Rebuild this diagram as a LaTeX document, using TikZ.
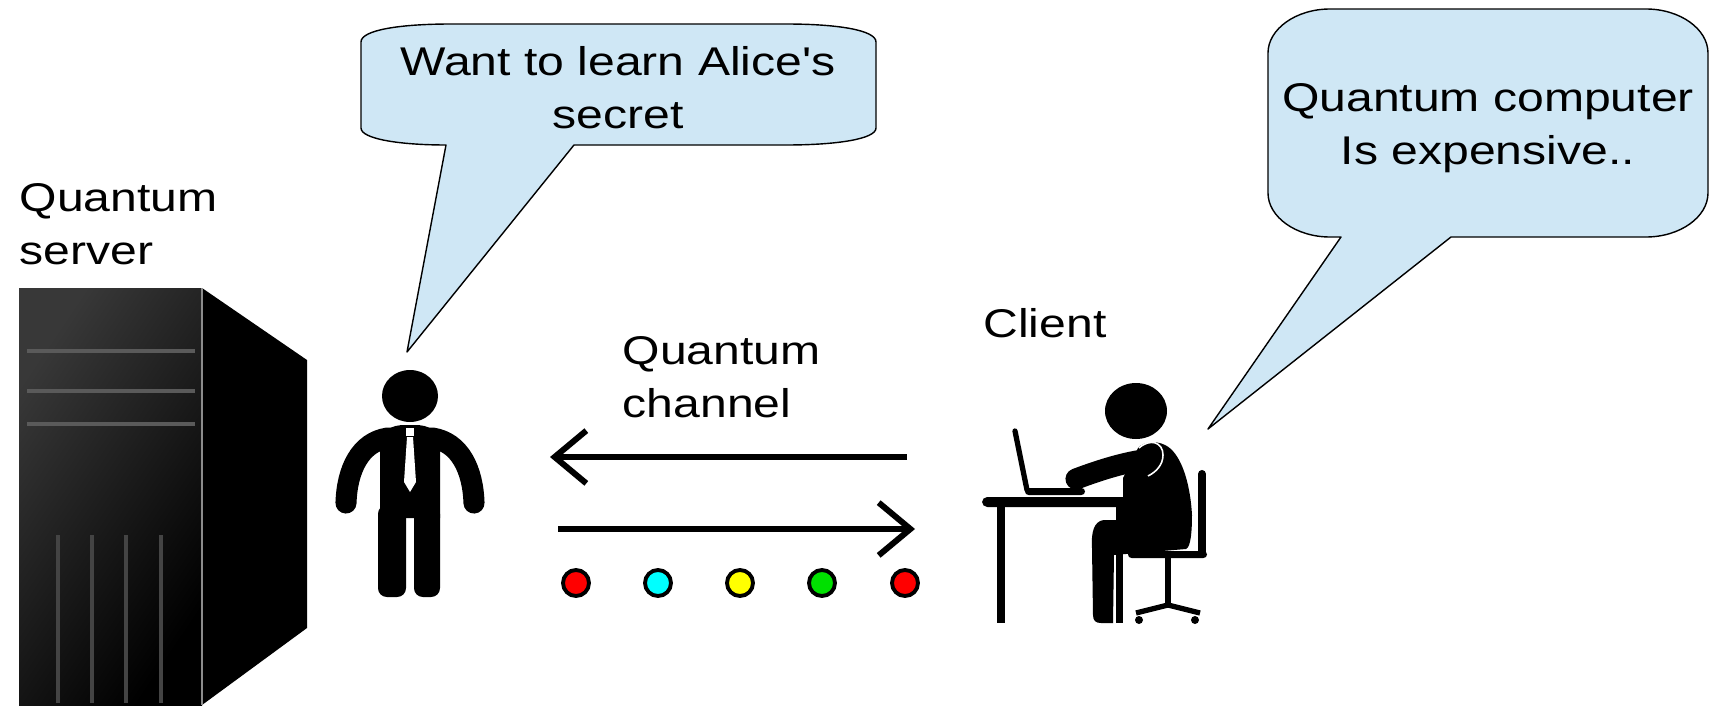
\documentclass[tikz,border=0pt]{standalone}
\usepackage{fontspec}
\newfontfamily\lblfont[FakeStretch=1.2]{Liberation Sans}
\usetikzlibrary{arrows.meta}
\definecolor{bubblefill}{HTML}{CFE7F5}
\definecolor{qred}{HTML}{FF0000}
\definecolor{qcyan}{HTML}{00FFFF}
\definecolor{qyellow}{HTML}{FFFF00}
\definecolor{qgreen}{HTML}{00E000}
\definecolor{stripe}{HTML}{5A5A5A}
\definecolor{slot}{HTML}{444444}
\begin{document}
\begin{tikzpicture}[x=0.01cm, y=-0.01cm,
  lbl/.style={font=\lblfont\fontsize{11.4pt}{15.1pt}\selectfont, inner sep=0pt},
  bubbleshape/.style={fill=bubblefill, draw=black, line width=0.4pt, line join=round},
  qbit/.style={circle, draw=black, line width=1.1pt, minimum size=0.26cm, inner sep=0pt},
  channel/.style={line width=1.7pt, -{Straight Barb[length=9pt, width=15pt]}},
  limb/.style={line width=6pt, line cap=round, black},
  bar/.style={black, line cap=round}]
\useasboundingbox (0,0) rectangle (1717,709);

% ---------- server tower ----------
\fill[black] (202,288) -- (307,360) -- (307,628) -- (202,705) -- cycle;
\shade[shading=axis, top color=black!78, middle color=black, bottom color=black, shading angle=56]
  (19,288) rectangle (202,705);
\draw[black!45, line width=0.4pt] (202,288) -- (202,705);
\foreach \yy in {351,391,424}
  \draw[stripe, line width=1.4pt] (27,\yy) -- (195,\yy);
\foreach \xx in {58,92,126,161}
  \draw[slot, line width=1.1pt] (\xx,535) -- (\xx,703);
\node[lbl, anchor=north west, align=left] (serverlbl) at (19,183) {Quantum\\server};

% ---------- eavesdropper ----------
\fill (410,396) ellipse [x radius=28, y radius=26];
\fill (380,518) -- (380,445) .. controls (380,430) and (392,425) .. (405,425)
  -- (415,425) .. controls (428,425) and (440,430) .. (440,445) -- (440,518) -- cycle;
\fill[rounded corners=2.5pt] (378,505) rectangle (406,597);
\fill[rounded corners=2.5pt] (414,505) rectangle (440,597);
\draw[limb] (388,438) .. controls (360,442) and (347,470) .. (346,503);
\draw[limb] (432,438) .. controls (460,442) and (473,470) .. (474,503);
\fill[white] (406,428) rectangle (414,436);
\fill[white] (407,437) -- (413,437) -- (416,482) -- (410,492) -- (404,482) -- cycle;

% ---------- speech bubbles ----------
\draw[bubbleshape] (451,24) -- (786,24) .. controls (837,24) and (876,30) .. (876,42)
  -- (876,128) .. controls (876,139) and (837,145) .. (786,145) -- (574,145)
  -- (407,352) -- (446,145) .. controls (400,145) and (361,139) .. (361,128)
  -- (361,42) .. controls (361,30) and (400,24) .. (451,24) -- cycle;
\node[lbl, anchor=north, align=center] (evetxt) at (618,46) {Want to learn Alice's\\secret};

\draw[bubbleshape] (1330,9) -- (1646,9) .. controls (1680,9) and (1708,29) .. (1708,53)
  -- (1708,193) .. controls (1708,217) and (1680,237) .. (1646,237) -- (1451,237)
  -- (1208,429) -- (1341,237) -- (1330,237) .. controls (1296,237) and (1268,217) .. (1268,193)
  -- (1268,53) .. controls (1268,29) and (1296,9) .. (1330,9) -- cycle;
\node[lbl, anchor=north, align=center] (clienttxt) at (1488,83) {Quantum computer\\Is expensive..};

% ---------- quantum channel ----------
\node[lbl, anchor=north west, align=left] (chanlbl) at (622,336) {Quantum\\channel};
\coordinate (backR) at (907,457);
\coordinate (backL) at (550,457);
\coordinate (fwdL) at (558,529);
\coordinate (fwdR) at (915,529);
\draw[channel] (backR) -- (backL);
\draw[channel] (fwdL) -- (fwdR);
\node[qbit, fill=qred]    (q1) at (576,583) {};
\node[qbit, fill=qcyan]   (q2) at (658,583) {};
\node[qbit, fill=qyellow] (q3) at (740,583) {};
\node[qbit, fill=qgreen]  (q4) at (822,583) {};
\node[qbit, fill=qred]    (q5) at (905,583) {};

% ---------- client at desk ----------
\node[lbl, anchor=base] (clientlbl) at (1045,337) {Client};
% desk and laptop
\fill[rounded corners=1.5pt] (982,497) rectangle (1130,507);
\fill (997,505) rectangle (1005,623);
\fill (1116,505) rectangle (1123,623);
\draw[bar, line width=1.5pt] (1015,431) -- (1027,490);
\fill[rounded corners=1pt] (1025,488) rectangle (1085,495);
% seated person
\fill (1136,411) ellipse [x radius=31, y radius=28];
\fill (1123,478) -- (1123,520) -- (1104,520)
  .. controls (1094,521) and (1091,532) .. (1092,548) -- (1093,615)
  .. controls (1093,621) and (1096,623) .. (1101,623) -- (1113,623) -- (1114,555)
  -- (1186,549) .. controls (1191,547) and (1192,530) .. (1192,515)
  .. controls (1190,480) and (1180,452) .. (1165,445)
  .. controls (1155,440) and (1143,442) .. (1138,448) -- cycle;
\draw[limb] (1150,459) .. controls (1125,462) and (1100,470) .. (1076,479);
\draw[white, line width=0.45pt] (1139,448) .. controls (1150,438) and (1163,442) .. (1163,455)
  .. controls (1163,465) and (1156,472) .. (1148,476);
% chair
\draw[bar, line width=2.3pt] (1202,474) -- (1202,553);
\fill[rounded corners=1pt] (1128,551) rectangle (1207,558);
\draw[black, line width=1.8pt] (1168,558) -- (1168,606);
\draw[black, line width=1.5pt, line join=round] (1136,613) -- (1168,605) -- (1200,613);
\fill (1139,620) circle [radius=4];
\fill (1195,620) circle [radius=4];
\end{tikzpicture}
\end{document}
